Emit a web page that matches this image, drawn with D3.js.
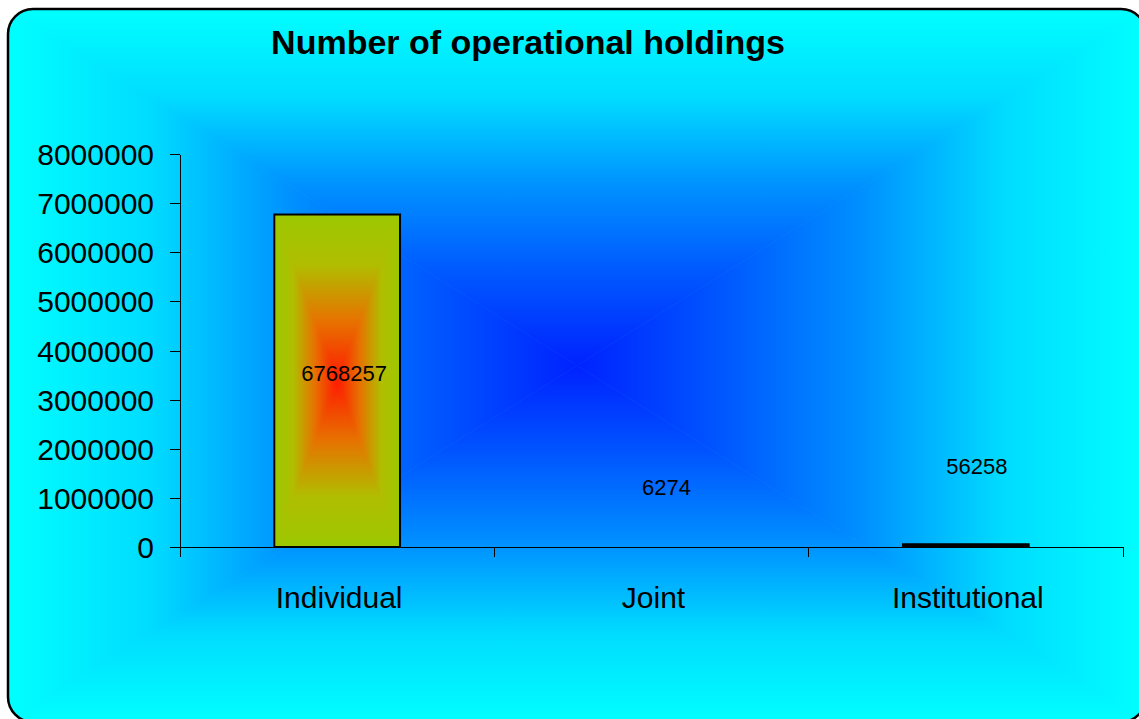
<!DOCTYPE html>
<meta charset="utf-8">
<style>
body {
  margin: 0;
  background-color: #ffffff;
}
text {
  font-family: "Liberation Sans", Arial, sans-serif;
  fill: #000;
}
.axis path,
.axis line {
  fill: none;
  stroke: #000;
  stroke-width: 1px;
  shape-rendering: crispEdges;
}
</style>
<body>
<script src="https://cdn.jsdelivr.net/npm/d3@7"></script>
<script>
  // data
  var categories = ["Individual", "Joint", "Institutional"];
  var holdings = [6768257, 6274, 56258];
  var yTicks = [0, 1000000, 2000000, 3000000, 4000000, 5000000, 6000000, 7000000, 8000000];
  var chartTitle = "Number of operational holdings";

  var W = 1139, H = 719;
  var frame = {x: 8, y: 9, w: 1138, h: 713, r: 25};
  var plot = {left: 180, right: 1123, top: 154, bottom: 547};

  // where excel dropped the value labels, relative to the bar middle
  var labelNudge = [[7, 0], [15, -52], [11, -72]];

  var svg = d3.select("body").append("svg")
      .attr("width", W)
      .attr("height", H);
  var defs = svg.append("defs");

  // "from centre" rectangular gradient, built from four triangles
  function rectGradient(id, x0, y0, x1, y1, stops) {
    var g = svg.append("g");
    var cx = (x0 + x1) / 2, cy = (y0 + y1) / 2;
    var sides = [
      {pts: [[x0, y0], [x1, y0], [cx, cy]], end: [cx, y0]},
      {pts: [[x0, y1], [x1, y1], [cx, cy]], end: [cx, y1]},
      {pts: [[x0, y0], [x0, y1], [cx, cy]], end: [x0, cy]},
      {pts: [[x1, y0], [x1, y1], [cx, cy]], end: [x1, cy]}
    ];
    // base fill so the seams between triangles don't show
    g.append("rect")
      .attr("x", x0).attr("y", y0)
      .attr("width", x1 - x0).attr("height", y1 - y0)
      .attr("fill", stops[stops.length - 1][1]);
    sides.forEach(function(s, i) {
      var lg = defs.append("linearGradient")
          .attr("id", id + i)
          .attr("gradientUnits", "userSpaceOnUse")
          .attr("x1", cx).attr("y1", cy)
          .attr("x2", s.end[0]).attr("y2", s.end[1]);
      stops.forEach(function(st) {
        lg.append("stop").attr("offset", st[0]).attr("stop-color", st[1]);
      });
      g.append("path")
        .attr("d", "M" + s.pts.map(function(p) { return p.join(","); }).join("L") + "Z")
        .attr("fill", "url(#" + id + i + ")")
        .attr("stroke", "url(#" + id + i + ")")
        .attr("stroke-width", 0.6);
    });
    return g;
  }

  var clip = defs.append("clipPath").attr("id", "frameClip");
  clip.append("rect")
    .attr("x", frame.x).attr("y", frame.y)
    .attr("width", frame.w).attr("height", frame.h)
    .attr("rx", frame.r);

  var bg = rectGradient("bgGrad", frame.x, frame.y, frame.x + frame.w, frame.y + frame.h,
    [[0, "#0022ff"], [0.25, "#0056ff"], [0.5, "#0090ff"], [0.75, "#00dcff"], [1, "#00ffff"]]);
  bg.attr("clip-path", "url(#frameClip)");

  svg.append("rect")
    .attr("x", frame.x).attr("y", frame.y)
    .attr("width", frame.w).attr("height", frame.h)
    .attr("rx", frame.r)
    .attr("fill", "none")
    .attr("stroke", "#000")
    .attr("stroke-width", 2.5);

  // scales
  var x = d3.scaleBand()
      .domain(categories)
      .range([plot.left, plot.right])
      .padding(0);
  var y = d3.scaleLinear()
      .domain([0, d3.max(yTicks)])
      .range([plot.bottom, plot.top]);

  var barW = x.bandwidth() * 0.4;

  // bars
  categories.forEach(function(c, i) {
    var bx = x(c) + (x.bandwidth() - barW) / 2;
    var by = y(holdings[i]);
    var bh = plot.bottom - by;
    if (bh < 1) return; // too small to show
    if (bh > 4) {
      rectGradient("barGrad" + i, bx, by, bx + barW, plot.bottom,
        [[0, "#ff1a00"], [0.35, "#e87000"], [0.7, "#b0be00"], [1, "#9cc800"]]);
    }
    svg.append("rect")
      .attr("x", bx).attr("y", by)
      .attr("width", barW).attr("height", bh)
      .attr("fill", bh > 4 ? "none" : "#000")
      .attr("stroke", "#000")
      .attr("stroke-width", 2);
  });

  // y axis
  svg.append("g")
      .attr("class", "axis")
      .attr("transform", "translate(" + plot.left + ",0)")
      .call(d3.axisLeft(y).tickValues(yTicks).tickFormat(d3.format("d"))
              .tickSize(10).tickSizeOuter(0).tickPadding(16))
      .selectAll("text")
        .style("font-size", "30px")
        .attr("dy", "0.35em");

  // x axis: line plus ticks at the category boundaries
  var xAxis = svg.append("g").attr("class", "axis");
  xAxis.append("line")
    .attr("x1", plot.left).attr("x2", plot.right)
    .attr("y1", plot.bottom).attr("y2", plot.bottom);
  var edges = categories.map(function(c) { return x(c); }).concat([x.range()[1]]);
  xAxis.selectAll(".edge").data(edges).enter().append("line")
    .attr("x1", function(d) { return d; }).attr("x2", function(d) { return d; })
    .attr("y1", plot.bottom).attr("y2", plot.bottom + 10);
  xAxis.selectAll(".cat").data(categories).enter().append("text")
    .attr("x", function(d) { return x(d) + x.bandwidth() / 2 + 2; })
    .attr("y", plot.bottom + 61)
    .attr("text-anchor", "middle")
    .style("font-size", "30px")
    .text(function(d) { return d; });

  // value labels
  svg.selectAll(".val").data(holdings).enter().append("text")
    .attr("x", function(d, i) { return x(categories[i]) + x.bandwidth() / 2 + labelNudge[i][0]; })
    .attr("y", function(d, i) { return y(d / 2) + labelNudge[i][1]; })
    .attr("text-anchor", "middle")
    .style("font-size", "22px")
    .text(function(d) { return d; });

  // title
  svg.append("text")
    .attr("x", 528)
    .attr("y", 54)
    .attr("text-anchor", "middle")
    .style("font-size", "34px")
    .style("font-weight", "bold")
    .text(chartTitle);
</script>
</body>
